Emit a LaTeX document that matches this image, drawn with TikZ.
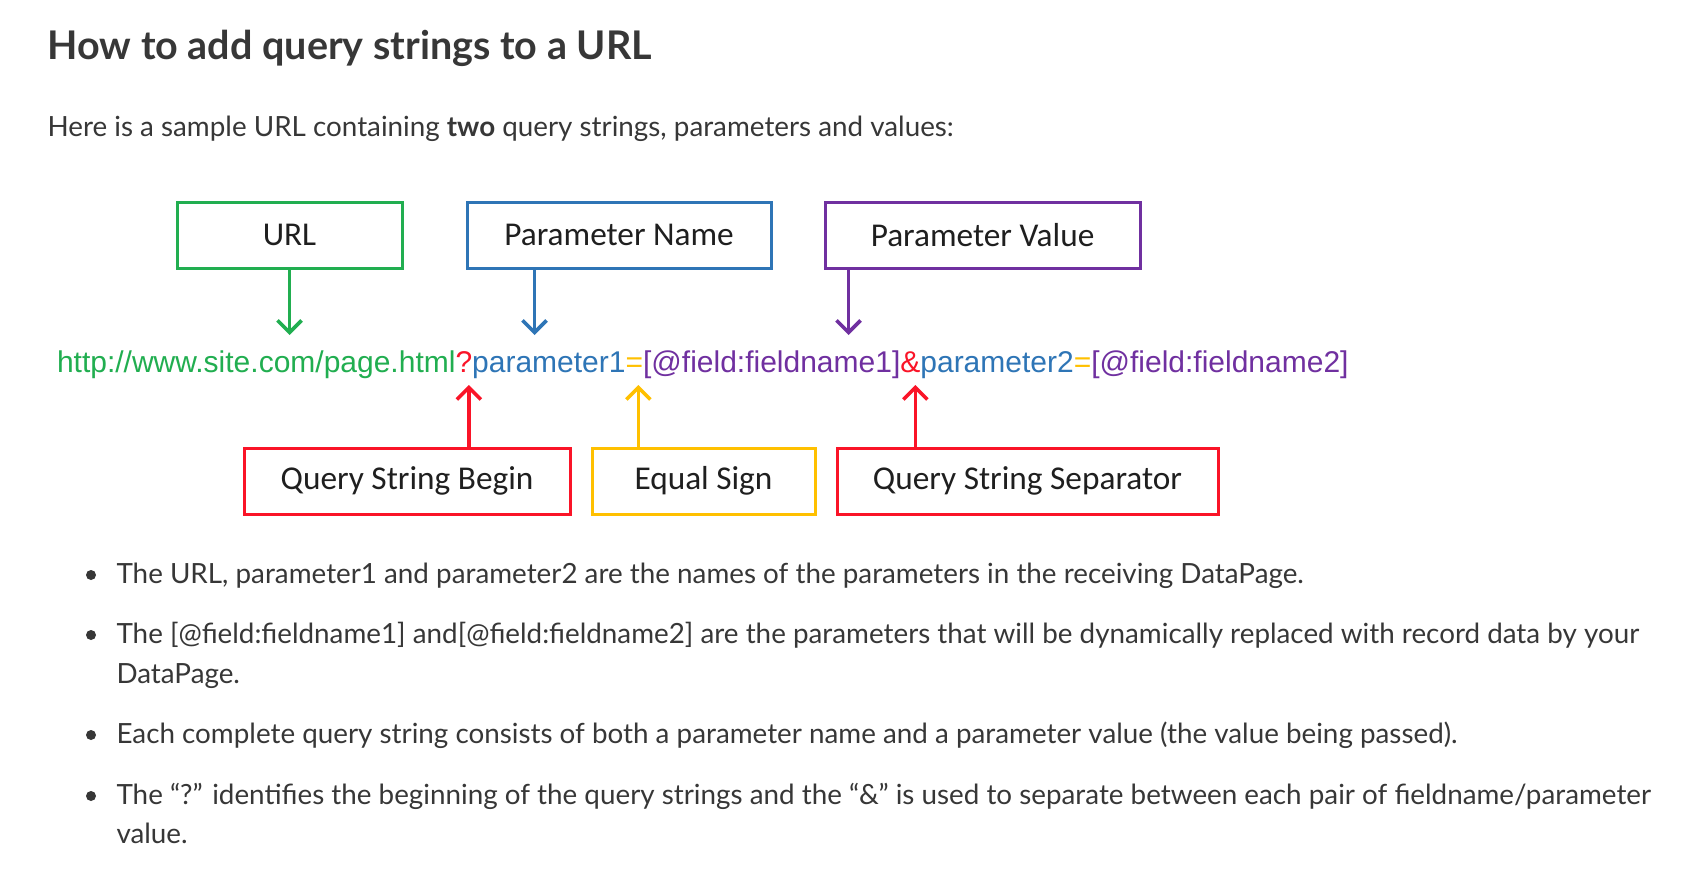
\documentclass[tikz,border=0pt]{standalone}
\usepackage{fontspec}
\setmainfont{Lato}
\newfontfamily\boxfont{Carlito}
\newfontfamily\urlfont{Liberation Sans}[Ligatures=NoCommon]
\usepackage{tikz}
\usetikzlibrary{positioning}
\usetikzlibrary{arrows.meta}

\definecolor{txtgray}{RGB}{55,55,55}
\definecolor{qgreen}{RGB}{33,174,80}
\definecolor{qblue}{RGB}{46,117,182}
\definecolor{qpurple}{RGB}{112,48,160}
\definecolor{qred}{RGB}{250,20,40}
\definecolor{qyellow}{RGB}{255,192,0}

\begin{document}
\begin{tikzpicture}
      [x=1pt,y=-1pt,
       labelbox/.style={draw=#1,line width=3pt,minimum height=66pt,inner sep=0pt,
                        font=\boxfont\fontsize{33.3}{40}\selectfont,text=black!88},
       urlpart/.style={text=#1,inner sep=0pt,outer sep=0pt,text height=22pt,text depth=7pt,
                       font=\urlfont\fontsize{30}{36}\selectfont},
       pointer/.style={draw=#1,line width=3.6pt,
                       -{Straight Barb[length=12pt,width=24pt,line width=3.6pt]}},
       textline/.style={anchor=base west,text=txtgray,font=\fontsize{27.8}{33}\selectfont},
       node distance=0pt]
    \useasboundingbox (0,0) rectangle (1696,888);
    \fill[white] (0,0) rectangle (1696,888);

    % heading and intro
    \node[anchor=base west,text=txtgray,font=\bfseries\fontsize{39.5}{47}\selectfont]
         (title) at (44,59.5) {How to add query strings to a URL};
    \node[textline] (intro) at (44,136)
         {Here is a sample URL containing \textbf{two} query strings, parameters and values:};

    % the sample url, piece by piece
    \node[urlpart=qgreen,anchor=base west] (base) at (57,372) {http://www.site.com/page.html};
    \node[urlpart=qred]    (qmark) [right=of base]  {?};
    \node[urlpart=qblue]   (p1)    [right=of qmark] {parameter1};
    \node[urlpart=qyellow] (eq1)   [right=of p1]    {=};
    \node[urlpart=qpurple] (v1)    [right=of eq1]   {[@field:fieldname1]};
    \node[urlpart=qred]    (amp)   [right=of v1]    {\&};
    \node[urlpart=qblue]   (p2)    [right=of amp]   {parameter2};
    \node[urlpart=qyellow] (eq2)   [right=of p2]    {=};
    \node[urlpart=qpurple] (v2)    [right=of eq2]   {[@field:fieldname2]};

    % boxes above
    \node[labelbox=qgreen,minimum width=225pt]  (urlbox) at (289.5,235) {URL};
    \node[labelbox=qblue,minimum width=304pt]   (nameb)  at (619,235)   {Parameter Name};
    \node[labelbox=qpurple,minimum width=315pt] (valueb) at (982.5,235) {Parameter Value};

    % boxes below
    \node[labelbox=qred,minimum width=326pt]    (qbegin) at (407,481)   {Query String Begin};
    \node[labelbox=qyellow,minimum width=223pt] (eqb)    at (703.5,481) {Equal Sign};
    \node[labelbox=qred,minimum width=381pt]    (sepb)   at (1027.5,481) {Query String Separator};

    \coordinate (nametail)  at ([xshift=69pt]nameb.south west);
    \coordinate (valuetail) at ([xshift=25pt]valueb.south west);
    \coordinate (qtip)   at ([xshift=5pt]qmark.south);
    \coordinate (eqtip)  at ([xshift=4pt]eq1.south);
    \coordinate (amptip) at ([xshift=5pt]amp.south);

    \draw[pointer=qgreen,shorten >=15pt]  (urlbox.south) -- (urlbox.south |- base.north);
    \draw[pointer=qblue,shorten >=15pt]   (nametail) -- (nametail |- p1.north);
    \draw[pointer=qpurple,shorten >=15pt] (valuetail) -- (valuetail |- v1.north);
    \draw[pointer=qred,shorten >=6pt]     (qbegin.north -| qtip) -- (qtip);
    \draw[pointer=qyellow,shorten >=6pt]  (eqb.north -| eqtip) -- (eqtip);
    \draw[pointer=qred,shorten >=6pt]     (sepb.north -| amptip) -- (amptip);

    % bullet list
    \foreach \y in {575,635,735,796}
      \fill[txtgray] (91,\y) circle (5);
    \node[textline] (item1) at (113,583)
         {The URL, parameter1 and parameter2 are the names of the parameters in the receiving DataPage.};
    \node[textline] (item2) at (113,643)
         {The [@field:fieldname1] and[@field:fieldname2] are the parameters that will be dynamically replaced with record data by your};
    \node[textline] (item2b) at (113,683) {DataPage.};
    \node[textline] (item3) at (113,743)
         {Each complete query string consists of both a parameter name and a parameter value (the value being passed).};
    \node[textline] (item4) at (113,804)
         {The “?” identifies the beginning of the query strings and the “\&” is used to separate between each pair of fieldname/parameter};
    \node[textline] (item4b) at (113,843) {value.};
\end{tikzpicture}
\end{document}
